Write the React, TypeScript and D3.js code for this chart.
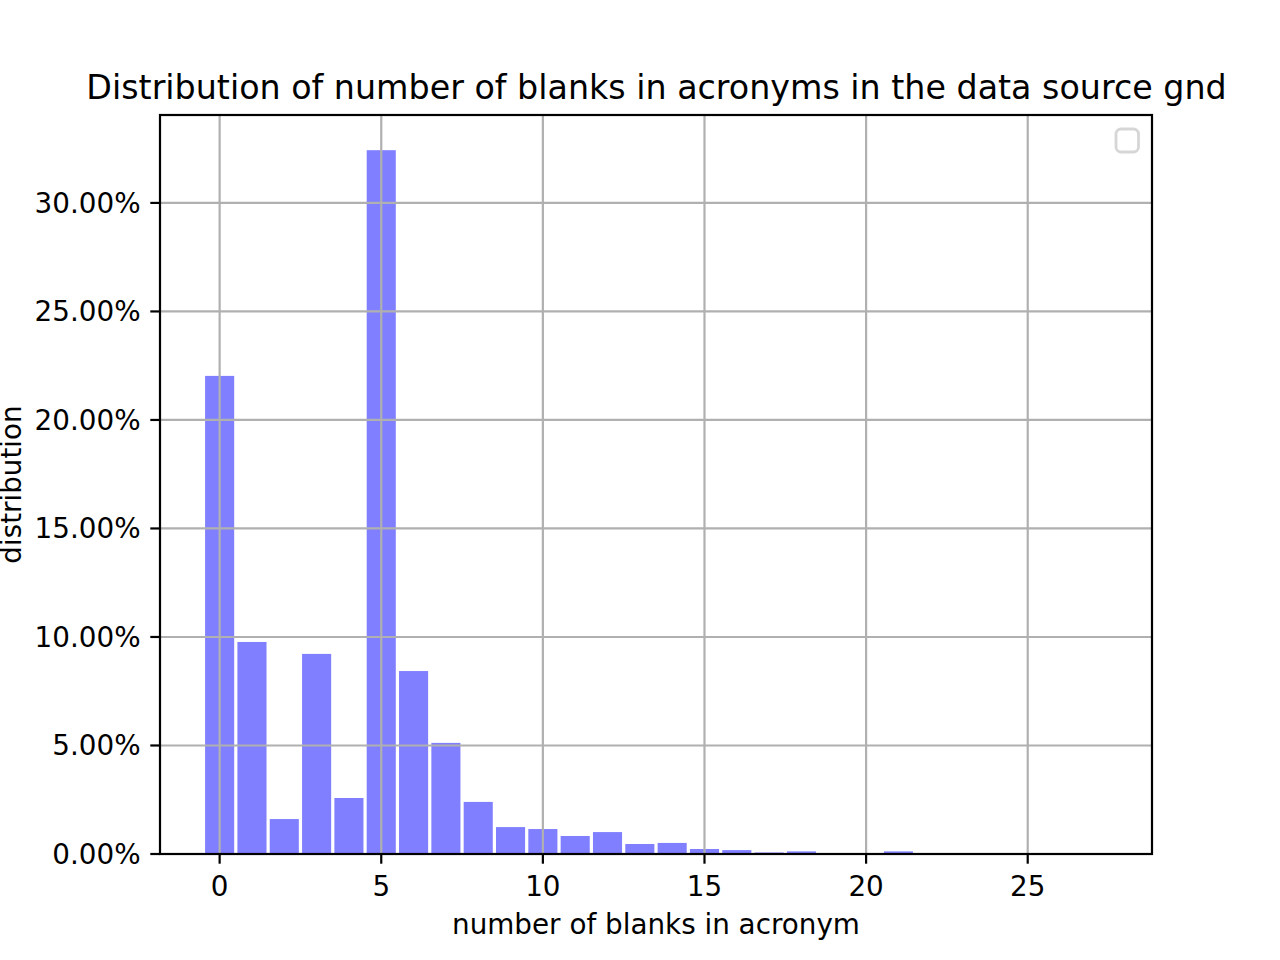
import React from "react";
import * as d3 from "d3";

const blanks: number[] = [0, 1, 2, 3, 4, 5, 6, 7, 8, 9, 10, 11, 12, 13, 14, 15, 16, 17, 18, 19, 20, 21, 22, 23, 24, 25, 26, 27];
const shares: number[] = [22.03, 9.77, 1.61, 9.22, 2.58, 32.43, 8.43, 5.12, 2.4, 1.24, 1.15, 0.83, 1.01, 0.46, 0.51, 0.23, 0.18, 0.07, 0.12, 0, 0, 0.12, 0, 0, 0, 0, 0, 0.01];
const xTicks: number[] = [0, 5, 10, 15, 20, 25];
const yTicks: number[] = [0, 5, 10, 15, 20, 25, 30];
const titleText = "Distribution of number of blanks in acronyms in the data source gnd";
const xLabel = "number of blanks in acronym";
const yLabel = "distribution";

const W = 1280;
const H = 960;
const L = 160, R = 1152, T = 115, B = 854;
const FONT = "DejaVu Sans, sans-serif";

export default function App() {
  const barW = 0.9;
  const xmin = d3.min(blanks)! - barW / 2;
  const xmax = d3.max(blanks)! + barW / 2;
  const xm = (xmax - xmin) * 0.05;
  const x = d3.scaleLinear().domain([xmin - xm, xmax + xm]).range([L, R]);
  const ymax = d3.max(shares)! * 1.05;
  const y = d3.scaleLinear().domain([0, ymax]).range([B, T]);
  const tickLen = 9.7;
  const lw = 2.2;

  return (
    <svg width={W} height={H} style={{ display: "block", position: "absolute", left: 0, top: 0 }} fontFamily={FONT}>
      <rect x={0} y={0} width={W} height={H} fill="white" />
      {/* bars */}
      <g fill="blue" fillOpacity={0.5}>
        {blanks.map((b, i) => (
          <rect
            key={"b" + b}
            x={x(b - barW / 2)}
            width={x(b + barW / 2) - x(b - barW / 2)}
            y={y(shares[i])}
            height={B - y(shares[i])}
          />
        ))}
      </g>
      {/* grid (above bars, as matplotlib draws it) */}
      <g stroke="#b0b0b0" strokeWidth={lw}>
        {xTicks.map((t) => (
          <line key={"gx" + t} x1={x(t)} x2={x(t)} y1={T} y2={B} />
        ))}
        {yTicks.map((t) => (
          <line key={"gy" + t} x1={L} x2={R} y1={y(t)} y2={y(t)} />
        ))}
      </g>
      {/* spines */}
      <rect x={L} y={T} width={R - L} height={B - T} fill="none" stroke="black" strokeWidth={lw} />
      {/* x ticks */}
      <g>
        {xTicks.map((t) => (
          <g key={"xt" + t}>
            <line x1={x(t)} x2={x(t)} y1={B} y2={B + tickLen} stroke="black" strokeWidth={lw} />
            <text x={x(t)} y={896} textAnchor="middle" fontSize={27.8} fill="black">
              {t}
            </text>
          </g>
        ))}
      </g>
      {/* y ticks */}
      <g>
        {yTicks.map((t) => (
          <g key={"yt" + t}>
            <line x1={L - tickLen} x2={L} y1={y(t)} y2={y(t)} stroke="black" strokeWidth={lw} />
            <text x={L - tickLen - 9.7} y={y(t) + 10} textAnchor="end" fontSize={27.8} fill="black">
              {d3.format(".2f")(t) + "%"}
            </text>
          </g>
        ))}
      </g>
      {/* legend (empty) */}
      <rect x={1116} y={129} width={22.5} height={23} rx={5} ry={5} fill="white" fillOpacity={0.8} stroke="#cccccc" strokeOpacity={0.8} strokeWidth={2.8} />
      {/* labels */}
      <text x={(L + R) / 2} y={934} textAnchor="middle" fontSize={27.8} fill="black">
        {xLabel}
      </text>
      <text transform={`translate(21, ${(T + B) / 2}) rotate(-90)`} textAnchor="middle" fontSize={27.8} fill="black">
        {yLabel}
      </text>
      <text x={(L + R) / 2 + 0.5} y={99} textAnchor="middle" fontSize={33.3} fill="black">
        {titleText}
      </text>
    </svg>
  );
}
